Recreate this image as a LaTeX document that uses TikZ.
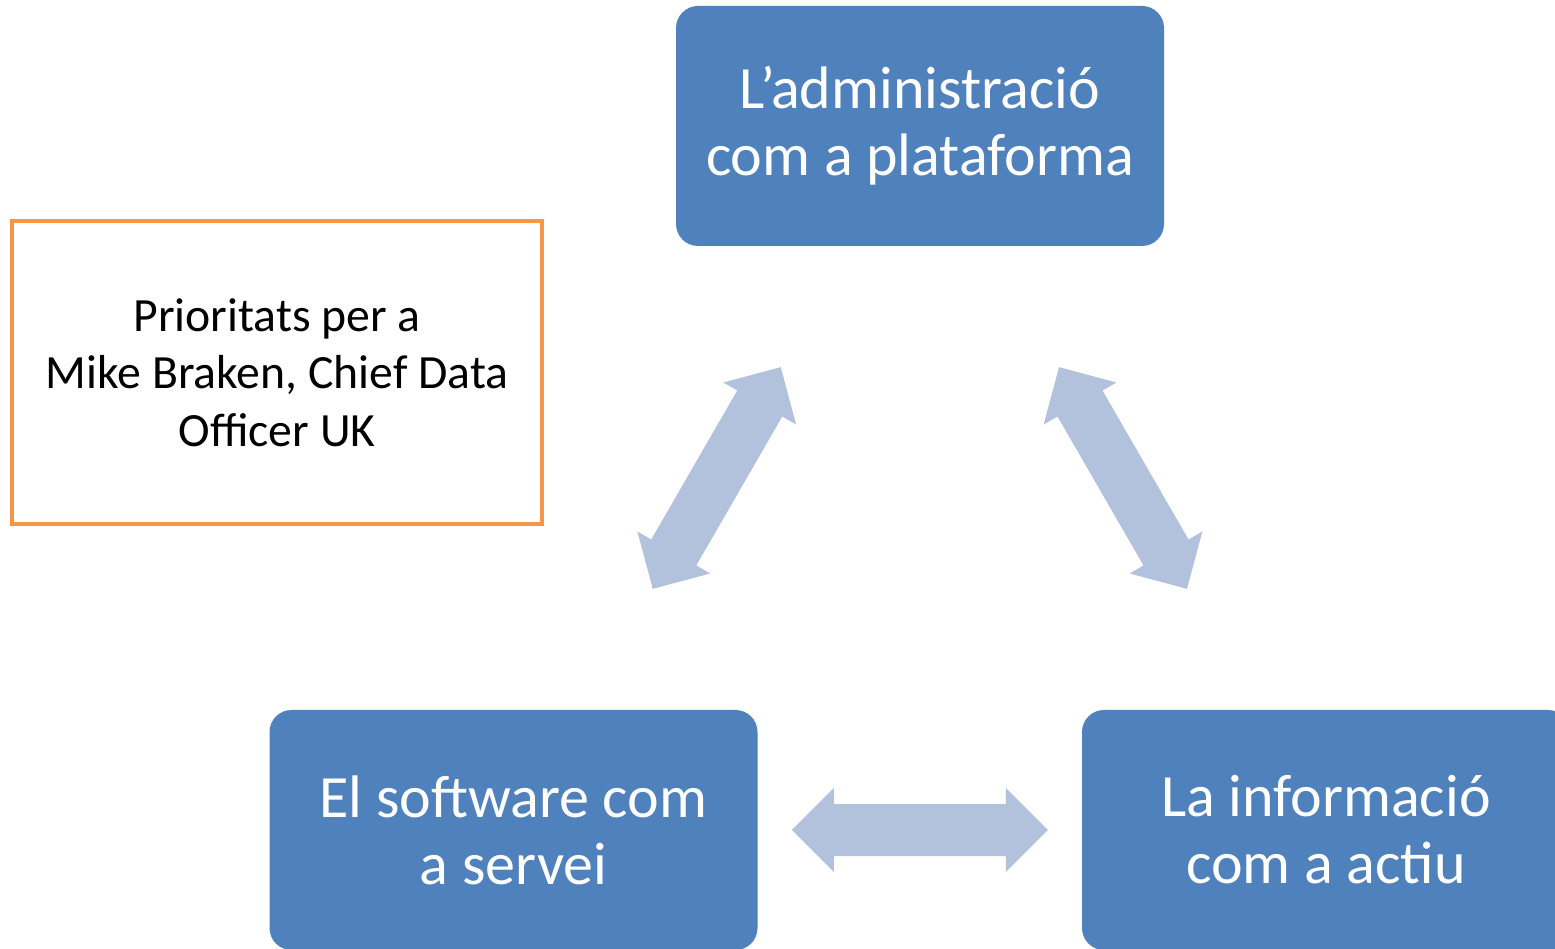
\documentclass[tikz,border=0pt]{standalone}
\usepackage{fontspec}
\setmainfont{Carlito}
\usetikzlibrary{calc}
\definecolor{boxblue}{HTML}{4F81BD}
\definecolor{arrowblue}{HTML}{B2C2DC}
\definecolor{orangeline}{HTML}{F79646}
\tikzset{
  bluebox/.style={fill=boxblue, rounded corners=22pt, minimum width=488pt,
    minimum height=240pt, text=white, align=center, inner sep=0pt,
    font=\fontsize{60}{67}\selectfont},
  notebox/.style={draw=orangeline, line width=4pt, minimum width=530pt,
    minimum height=303pt, align=center, inner sep=0pt,
    font=\fontsize{47.7}{57.5}\selectfont},
  blockarrow/.style={fill=arrowblue}
}
\newcommand{\dblarrowpath}{(-128,0) -- (-86,42) -- (-86,26) -- (86,26) -- (86,42) -- (128,0) -- (86,-42) -- (86,-26) -- (-86,-26) -- (-86,-42) -- cycle}
\begin{document}
\begin{tikzpicture}[x=1pt,y=1pt]
\useasboundingbox (0,0) rectangle (1555,948);
\clip (0,0) rectangle (1555,948);
\node[bluebox] (top) at (920,822) {L’administració\\com a plataforma};
\node[bluebox] (sw) at (513.5,118) {El software com\\a servei};
\node[bluebox] (se) at (1326,118) {La informació\\com a actiu};
\node[notebox] (note) at (277,575.5) {Prioritats per a\\Mike Braken, Chief Data\\Officer UK};
\begin{scope}[shift={($(top.center)!0.5!(sw.center)$)}, rotate=60]
  \fill[blockarrow] \dblarrowpath;
\end{scope}
\begin{scope}[shift={($(top.center)!0.5!(se.center)$)}, rotate=-60]
  \fill[blockarrow] \dblarrowpath;
\end{scope}
\begin{scope}[shift={($(sw.center)!0.5!(se.center)$)}]
  \fill[blockarrow] \dblarrowpath;
\end{scope}
\end{tikzpicture}
\end{document}
